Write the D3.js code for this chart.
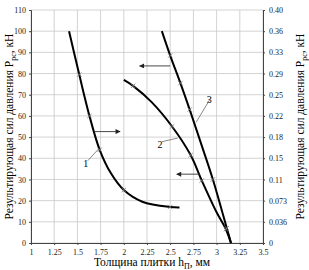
<!DOCTYPE html>
<html>
<head>
<meta charset="utf-8">
<script src="https://cdn.jsdelivr.net/npm/d3@7"></script>
<style>
body { margin: 0; background: #fff; }
svg text { font-family: "Liberation Serif", "Times New Roman", "DejaVu Serif", serif !important; }
.grid line { stroke: #c8c8c8; stroke-width: 0.8; }
.axis path, .axis line { stroke: #444; }
.axis text { font-size: 8px; fill: #222; }
.curve { fill: none; stroke: #000; stroke-width: 2; }
.mark { stroke: #777; stroke-width: 0.8; }
.arrow { stroke: #333; stroke-width: 0.9; }
.leader { stroke: #555; stroke-width: 0.7; }
</style>
</head>
<body>
<div id="container"></div>
<script>
const WIDTH = 309;
const HEIGHT = 270;
const LEFT = 31, RIGHT = 263, TOP = 10, BOTTOM = 243;
const SERIF = "'Liberation Serif', 'Times New Roman', serif";

var X_TICKS = [1, 1.25, 1.5, 1.75, 2, 2.25, 2.5, 2.75, 3, 3.25, 3.5];
var Y_TICKS = [0, 10, 20, 30, 40, 50, 60, 70, 80, 90, 100, 110];
var RIGHT_LABELS = ["0", "0.036", "0.073", "0.11", "0.15", "0.18", "0.22", "0.25", "0.29", "0.33", "0.36", "0.40"];

// curve points, [thickness, force]
var CURVE_1 = [[1.41, 100], [1.52, 79.5], [1.63, 60], [1.74, 44], [1.86, 33], [2.0, 25], [2.2, 19.5], [2.5, 17], [2.6, 16.8]];
var CURVE_2 = [[2.0, 77], [2.1, 74.2], [2.3, 66.5], [2.52, 55], [2.72, 41.5], [2.84, 29.5], [3.0, 14.5], [3.1, 6.5], [3.155, 0]];
var CURVE_3 = [[2.41, 100], [2.5, 88.5], [2.61, 75.5], [2.71, 63], [2.84, 46], [2.96, 30], [3.11, 7], [3.155, 0]];

var MARKS_1 = [[1.52, 79.5], [1.63, 60], [1.74, 44], [2.0, 25], [2.5, 17]];
var MARKS_2 = [[2.1, 74.2], [2.52, 55], [2.72, 41.5], [2.84, 29.5], [3.1, 6.5]];
var MARKS_3 = [[2.5, 88.5], [2.61, 75.5], [2.71, 63], [2.96, 30], [3.11, 7]];

// arrows: [x from, x to (head), y]
var ARROWS = [[1.69, 1.96, 52.6], [2.5, 2.17, 83.6], [2.82, 2.57, 32.5]];

// curve labels: [text, label x, label y, leader end x, leader end y]
var LABELS = [["1", 1.59, 36, 1.73, 44.5], ["2", 2.39, 45, 2.58, 49.5], ["3", 2.92, 66, 2.78, 57]];

var XScale = d3.scaleLinear().domain([1, 3.5]).range([LEFT, RIGHT]);
var YScale = d3.scaleLinear().domain([0, 110]).range([BOTTOM, TOP]);

var svg = d3.select("#container").append("svg")
    .attr("width", WIDTH)
    .attr("height", HEIGHT)
    .attr("font-family", SERIF);

// grid
var grid = svg.append("g").classed("grid", true);
grid.selectAll(".v").data(X_TICKS).enter().append("line")
    .attr("x1", d => XScale(d)).attr("x2", d => XScale(d))
    .attr("y1", TOP).attr("y2", BOTTOM);
grid.selectAll(".h").data(Y_TICKS).enter().append("line")
    .attr("x1", LEFT).attr("x2", RIGHT)
    .attr("y1", d => YScale(d)).attr("y2", d => YScale(d));

// axes
svg.append("g").classed("axis", true)
    .attr("transform", "translate(0," + BOTTOM + ")")
    .call(d3.axisBottom(XScale).tickValues(X_TICKS).tickSize(2).tickFormat(d => String(d)))
    .attr("font-family", SERIF)
    .call(g => g.selectAll("text").attr("dy", "0.9em"));

svg.append("g").classed("axis", true)
    .attr("transform", "translate(" + LEFT + ",0)")
    .call(d3.axisLeft(YScale).tickValues(Y_TICKS).tickSize(2).tickFormat(d => String(d)))
    .attr("font-family", SERIF);

svg.append("g").classed("axis", true)
    .attr("transform", "translate(" + RIGHT + ",0)")
    .call(d3.axisRight(YScale).tickValues(Y_TICKS).tickSize(2)
        .tickFormat((d, i) => RIGHT_LABELS[i]))
    .attr("font-family", SERIF)
    .call(g => g.selectAll("text").attr("x", 6));

// curves
var line = d3.line()
    .x(d => XScale(d[0]))
    .y(d => YScale(d[1]))
    .curve(d3.curveCatmullRom.alpha(0.5));

[CURVE_1, CURVE_2, CURVE_3].forEach(function (data) {
    svg.append("path").datum(data).attr("d", line).classed("curve", true);
});

// cross markers
var marks = svg.append("g");
[MARKS_1, MARKS_2, MARKS_3].forEach(function (data) {
    data.forEach(function (d) {
        var cx = XScale(d[0]), cy = YScale(d[1]), s = 2.2;
        marks.append("line").classed("mark", true)
            .attr("x1", cx - s).attr("y1", cy - s).attr("x2", cx + s).attr("y2", cy + s);
        marks.append("line").classed("mark", true)
            .attr("x1", cx - s).attr("y1", cy + s).attr("x2", cx + s).attr("y2", cy - s);
    });
});

// arrows
svg.append("defs").append("marker")
    .attr("id", "head")
    .attr("viewBox", "0 0 10 10")
    .attr("refX", 9).attr("refY", 5)
    .attr("markerWidth", 7).attr("markerHeight", 5)
    .attr("markerUnits", "userSpaceOnUse")
    .attr("orient", "auto")
    .append("path").attr("d", "M0,0 L10,5 L0,10 Z").attr("fill", "#222");

svg.selectAll(".arrow").data(ARROWS).enter().append("line")
    .classed("arrow", true)
    .attr("x1", d => XScale(d[0])).attr("x2", d => XScale(d[1]))
    .attr("y1", d => YScale(d[2])).attr("y2", d => YScale(d[2]))
    .attr("marker-end", "url(#head)");

// curve labels
LABELS.forEach(function (d) {
    svg.append("text")
        .attr("x", XScale(d[1])).attr("y", YScale(d[2]))
        .attr("text-anchor", "middle")
        .attr("font-size", 10)
        .text(d[0]);
    svg.append("line").classed("leader", true)
        .attr("x1", XScale(d[1]) + 2).attr("y1", YScale(d[2]) - 6)
        .attr("x2", XScale(d[3])).attr("y2", YScale(d[4]));
});

// axis titles
function title(sel, main, sub, tail) {
    sel.append("tspan").text(main);
    sel.append("tspan").attr("font-size", 8).attr("dy", 3).text(sub);
    sel.append("tspan").attr("dy", -3).text(tail);
}

title(svg.append("text")
    .attr("transform", "translate(13," + ((TOP + BOTTOM) / 2) + ") rotate(-90)")
    .attr("text-anchor", "middle")
    .attr("font-size", 11.5), "Результирующая сил давления P", "рс", ", кН");

title(svg.append("text")
    .attr("transform", "translate(304," + ((TOP + BOTTOM) / 2) + ") rotate(-90)")
    .attr("text-anchor", "middle")
    .attr("font-size", 11.5), "Результирующая сил давления P", "рс", ", кН");

title(svg.append("text")
    .attr("x", (LEFT + RIGHT) / 2 + 5).attr("y", 266)
    .attr("text-anchor", "middle")
    .attr("font-size", 11.5), "Толщина плитки h", "П", ", мм");
</script>
</body>
</html>
